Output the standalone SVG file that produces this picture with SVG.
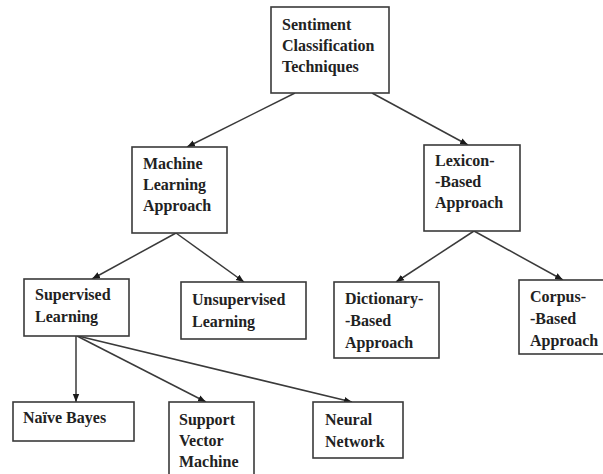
<svg xmlns="http://www.w3.org/2000/svg" width="603" height="474" viewBox="0 0 603 474">
<style>
.box{fill:#fff;stroke:#3a3a3a;stroke-width:1.6}
.t{font-family:"Liberation Serif","DejaVu Serif",serif;font-weight:bold;font-size:16px;fill:#222}
.c{stroke:#3a3a3a;stroke-width:1.5;fill:none;marker-end:url(#ah)}
</style>
<defs>
<marker id="ah" markerUnits="userSpaceOnUse" markerWidth="8" markerHeight="8" viewBox="0 0 8 8" refX="8" refY="4" orient="auto">
<path d="M0,0.8 L8,4 L0,7.2 Z" fill="#1a1a1a"/>
</marker>
</defs>
<rect width="603" height="474" fill="#fff"/>
<g id="connectors">
<line class="c" x1="295" y1="93" x2="187" y2="147"/>
<line class="c" x1="372" y1="93" x2="468" y2="145"/>
<line class="c" x1="176" y1="233" x2="92" y2="279"/>
<line class="c" x1="176" y1="233" x2="244" y2="282"/>
<line class="c" x1="474" y1="231" x2="396" y2="282"/>
<line class="c" x1="474" y1="231" x2="563" y2="280"/>
<line class="c" x1="76" y1="336" x2="76" y2="402"/>
<line class="c" x1="77" y1="336" x2="206" y2="402"/>
<line class="c" x1="78" y1="336" x2="352" y2="402"/>
</g>
<g id="sentiment">
<rect class="box" x="271" y="7" width="118" height="86"/>
<text class="t" x="282" y="30">Sentiment</text>
<text class="t" x="282" y="51">Classification</text>
<text class="t" x="282" y="72">Techniques</text>
</g>
<g id="machine">
<rect class="box" x="132" y="147" width="95" height="86"/>
<text class="t" x="143" y="169">Machine</text>
<text class="t" x="143" y="190">Learning</text>
<text class="t" x="143" y="211">Approach</text>
</g>
<g id="lexicon">
<rect class="box" x="424" y="145" width="96" height="86"/>
<text class="t" x="435" y="166">Lexicon-</text>
<text class="t" x="435" y="187">-Based</text>
<text class="t" x="435" y="208">Approach</text>
</g>
<g id="supervised">
<rect class="box" x="24" y="279" width="105" height="57"/>
<text class="t" x="35" y="300">Supervised</text>
<text class="t" x="35" y="322">Learning</text>
</g>
<g id="unsupervised">
<rect class="box" x="181" y="282" width="125" height="57"/>
<text class="t" x="192" y="305">Unsupervised</text>
<text class="t" x="192" y="327">Learning</text>
</g>
<g id="dictionary">
<rect class="box" x="334" y="282" width="105" height="76"/>
<text class="t" x="345" y="304">Dictionary-</text>
<text class="t" x="345" y="326">-Based</text>
<text class="t" x="345" y="348">Approach</text>
</g>
<g id="corpus">
<rect class="box" x="519" y="280" width="90" height="74"/>
<text class="t" x="530" y="302">Corpus-</text>
<text class="t" x="530" y="324">-Based</text>
<text class="t" x="530" y="346">Approach</text>
</g>
<g id="naive">
<rect class="box" x="13" y="402" width="121" height="39"/>
<text class="t" x="23" y="423">Naïve Bayes</text>
</g>
<g id="svm">
<rect class="box" x="169" y="402" width="85" height="80"/>
<text class="t" x="179" y="425">Support</text>
<text class="t" x="179" y="446">Vector</text>
<text class="t" x="179" y="467">Machine</text>
</g>
<g id="neural">
<rect class="box" x="313" y="402" width="90" height="56"/>
<text class="t" x="325" y="425">Neural</text>
<text class="t" x="325" y="447">Network</text>
</g>
</svg>
